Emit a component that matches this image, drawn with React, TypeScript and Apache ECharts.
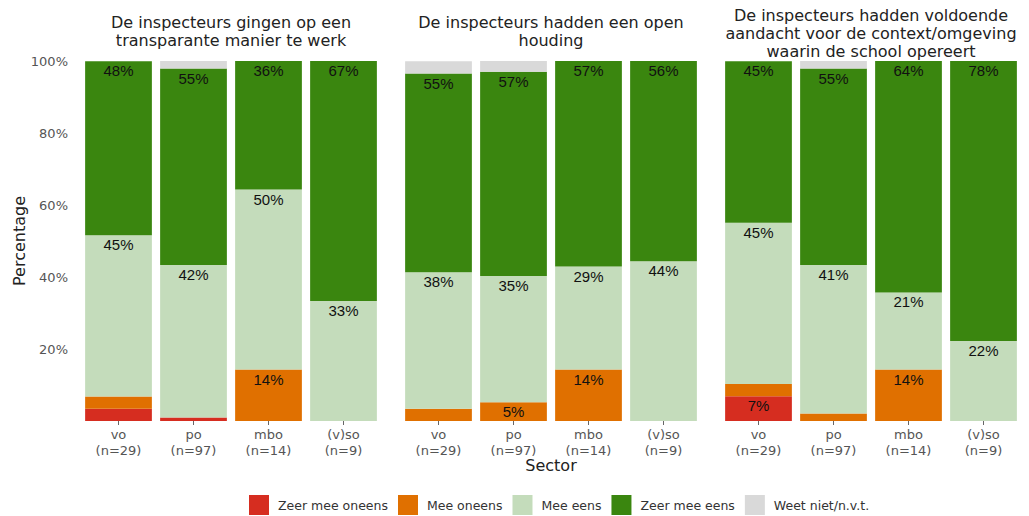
import React, { useEffect, useRef } from "react";
import * as echarts from "echarts";

const sectors = ["vo", "po", "mbo", "(v)so"];
const sampleSizes = ["n=29", "n=97", "n=14", "n=9"];
const responseLabels = ["Zeer mee oneens", "Mee oneens", "Mee eens", "Zeer mee eens", "Weet niet/n.v.t."];
const responseColors = ["#D62D20", "#E07000", "#C4DCBB", "#3A860F", "#D9D9D9"];
const facetTitles = [
  "De inspecteurs gingen op een\ntransparante manier te werk",
  "De inspecteurs hadden een open\nhouding",
  "De inspecteurs hadden voldoende\naandacht voor de context/omgeving\nwaarin de school opereert",
];
const yTicks = [0, 20, 40, 60, 80, 100];

// Facet 1: transparante manier te werk
const f1ZeerOneens = [3.4, 1.0, 0, 0];
const f1Oneens = [3.4, 0, 14.3, 0];
const f1Eens = [44.8, 42.3, 50.0, 33.3];
const f1ZeerEens = [48.3, 54.6, 35.7, 66.7];
const f1Weet = [0, 2.1, 0, 0];

// Facet 2: open houding
const f2ZeerOneens = [0, 0, 0, 0];
const f2Oneens = [3.4, 5.2, 14.3, 0];
const f2Eens = [37.9, 35.1, 28.6, 44.4];
const f2ZeerEens = [55.2, 56.7, 57.1, 55.6];
const f2Weet = [3.4, 3.1, 0, 0];

// Facet 3: aandacht voor context
const f3ZeerOneens = [6.9, 0, 0, 0];
const f3Oneens = [3.4, 2.1, 14.3, 0];
const f3Eens = [44.8, 41.2, 21.4, 22.2];
const f3ZeerEens = [44.8, 54.6, 64.3, 77.8];
const f3Weet = [0, 2.1, 0, 0];

const facets = [
  [f1ZeerOneens, f1Oneens, f1Eens, f1ZeerEens, f1Weet],
  [f2ZeerOneens, f2Oneens, f2Eens, f2ZeerEens, f2Weet],
  [f3ZeerOneens, f3Oneens, f3Eens, f3ZeerEens, f3Weet],
];

const FONT = "DejaVu Sans, Verdana, sans-serif";

export default function App() {
  const ref = useRef<HTMLDivElement>(null);
  useEffect(() => {
    document.body.style.margin = "0";
    if (!ref.current) return;
    const chart = echarts.init(ref.current, null, { renderer: "svg" });
    const gridLefts = [81, 401, 721];
    const gridWidth = 300;
    const grids = gridLefts.map((l) => ({ left: l, width: gridWidth, top: 61, bottom: 95 }));
    const xAxes = gridLefts.map((_, i) => ({
      type: "category",
      gridIndex: i,
      data: sectors,
      axisLine: { show: false },
      axisTick: { show: true, alignWithLabel: true, length: 4, lineStyle: { color: "#666" } },
      axisLabel: {
        color: "#555",
        fontFamily: FONT,
        fontSize: 13,
        lineHeight: 16,
        margin: 5,
        formatter: (v: string, idx: number) => `${v}\n(${sampleSizes[idx]})`,
      },
    }));
    const yAxes = gridLefts.map((_, i) => ({
      type: "value",
      gridIndex: i,
      min: yTicks[0],
      max: yTicks[yTicks.length - 1],
      interval: 20,
      splitLine: { show: false },
      axisLine: { show: false },
      axisTick: { show: false },
      axisLabel: {
        show: i === 0,
        color: "#555",
        fontFamily: FONT,
        fontSize: 13,
        margin: 13,
        formatter: (v: number) => (v === 0 ? "" : `${v}%`),
      },
    }));
    const series: any[] = [];
    facets.forEach((facet, fi) => {
      facet.forEach((vals, ri) => {
        series.push({
          type: "bar",
          name: responseLabels[ri],
          xAxisIndex: fi,
          yAxisIndex: fi,
          stack: `facet${fi}`,
          data: vals,
          barCategoryGap: "11%",
          itemStyle: { color: responseColors[ri] },
          label: {
            show: true,
            position: "insideTop",
            distance: 2,
            color: "#111",
            fontFamily: "Liberation Sans, Arial, sans-serif",
            fontSize: 15,
            formatter: (p: any) => (p.value >= 5 ? `${Math.round(p.value)}%` : ""),
          },
        });
      });
    });
    const titleTops = [13, 13, 6];
    const graphics: any[] = facetTitles.map((t, i) => ({
      type: "text",
      x: gridLefts[i] + gridWidth / 2,
      y: titleTops[i],
      style: {
        text: t,
        textAlign: "center",
        textVerticalAlign: "top",
        font: `16px ${FONT}`,
        lineHeight: 18,
        fill: "#222",
      },
    }));
    graphics.push({
      type: "text",
      x: 19,
      y: 241,
      rotation: Math.PI / 2,
      style: {
        text: "Percentage",
        textAlign: "center",
        textVerticalAlign: "middle",
        font: `16px ${FONT}`,
        fill: "#222",
      },
    });
    graphics.push({
      type: "text",
      x: 551,
      y: 465,
      style: {
        text: "Sector",
        textAlign: "center",
        textVerticalAlign: "middle",
        font: `16px ${FONT}`,
        fill: "#222",
      },
    });
    chart.setOption({
      animation: false,
      grid: grids,
      xAxis: xAxes,
      yAxis: yAxes,
      series,
      legend: {
        data: responseLabels,
        left: 244,
        top: 490,
        icon: "rect",
        itemWidth: 20,
        itemHeight: 20,
        itemGap: 10,
        textStyle: { fontFamily: FONT, fontSize: 12.5, color: "#333", padding: [0, 0, 0, 4] },
      },
      graphic: graphics,
    });
    return () => chart.dispose();
  }, []);
  return <div ref={ref} style={{ width: 1029, height: 516 }} />;
}
